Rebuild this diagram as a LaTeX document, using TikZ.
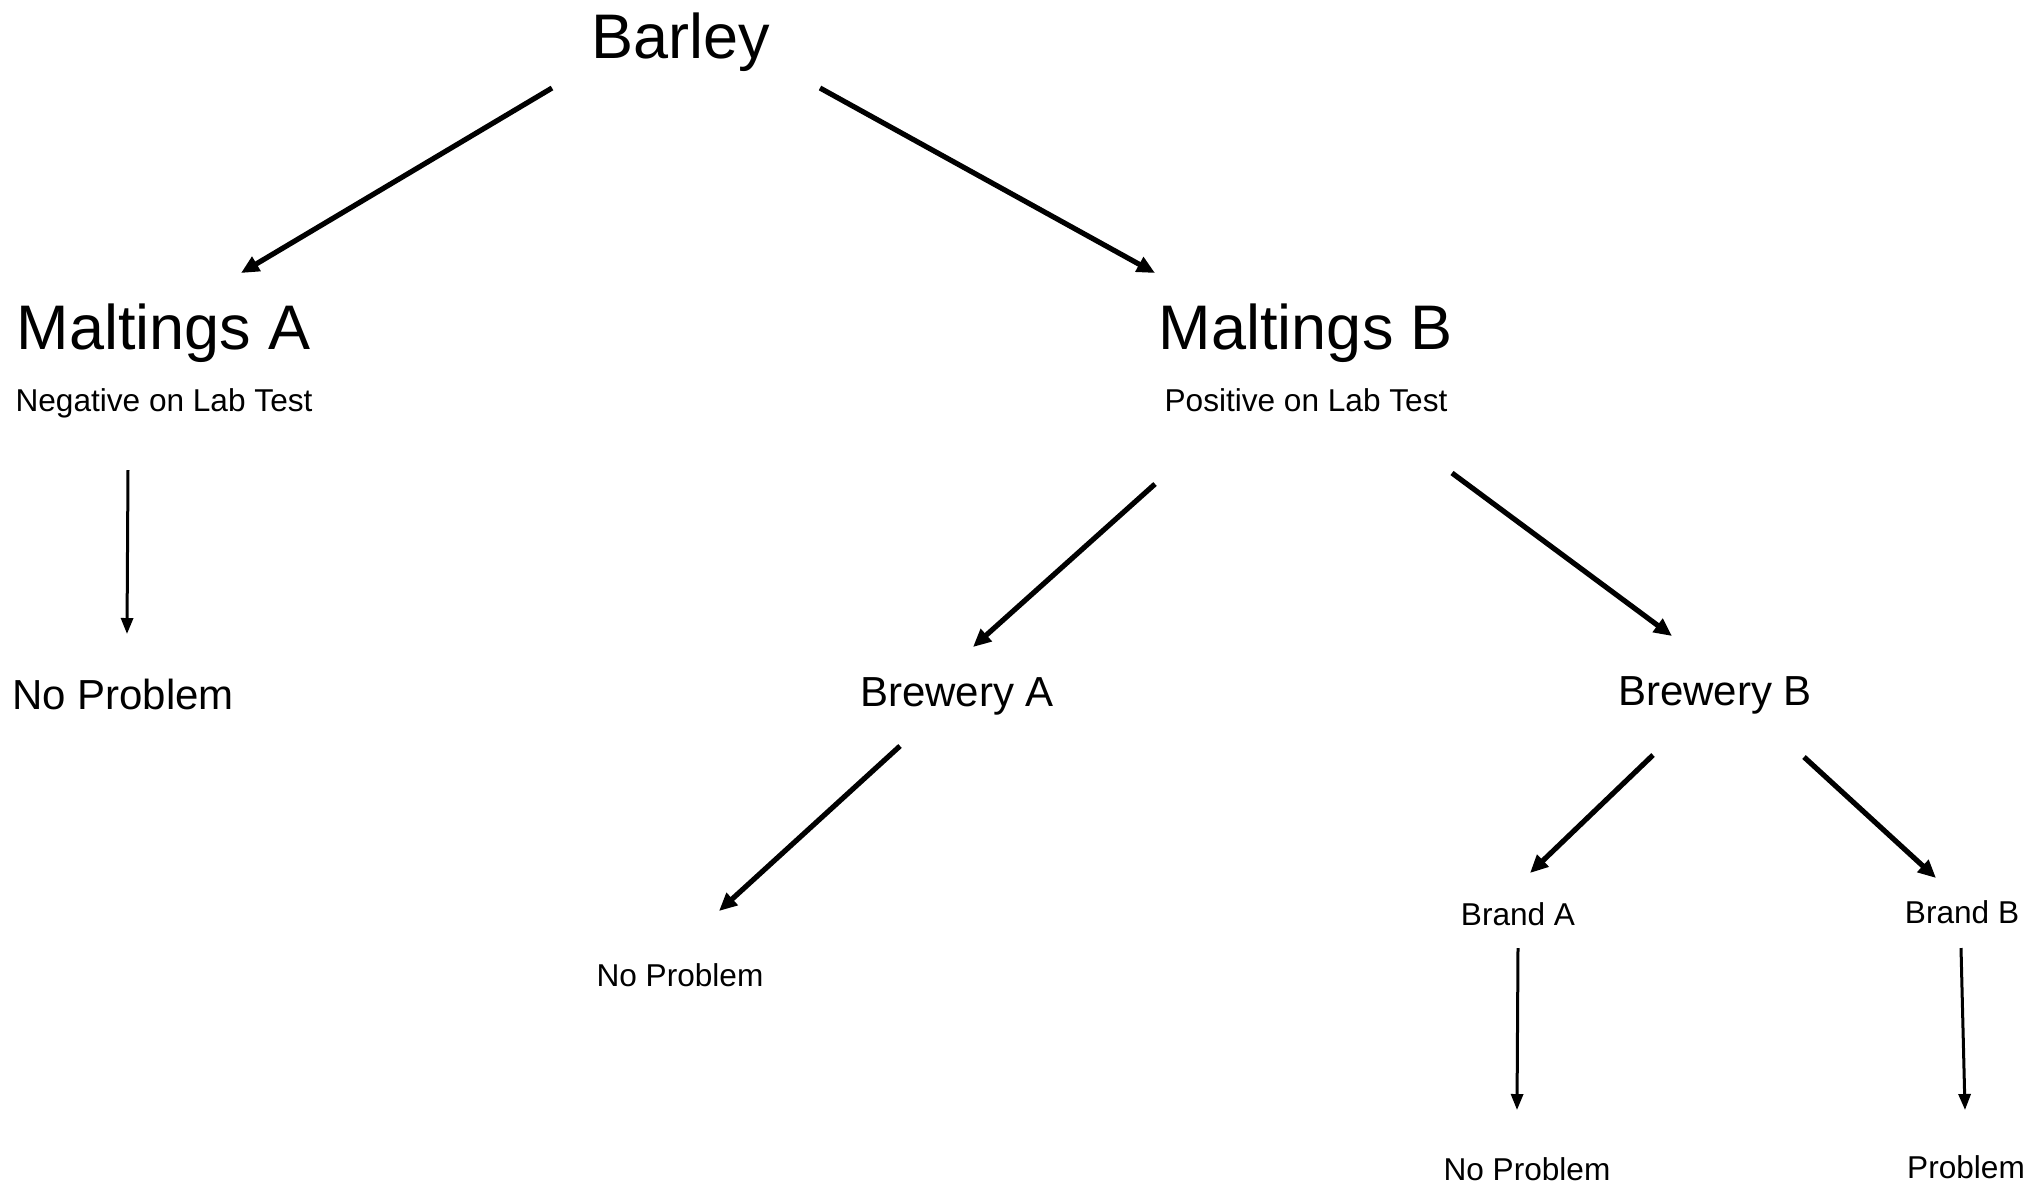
\documentclass[tikz,border=0pt]{standalone}
\usepackage{fontspec}
\setmainfont{Liberation Sans}
\usetikzlibrary{arrows.meta}
\tikzset{
  big/.style={anchor=base, inner sep=0pt, font=\fontsize{31.5}{36}\selectfont},
  mid/.style={anchor=base, inner sep=0pt, font=\fontsize{21}{25}\selectfont},
  small/.style={anchor=base, inner sep=0pt, font=\fontsize{15.8}{19}\selectfont},
  thickarrow/.style={line width=2.6pt, -{Triangle[length=9pt,width=8pt]}},
  thinarrow/.style={line width=1.5pt, -{Triangle[length=8pt,width=6pt]}},
}
\begin{document}
\begin{tikzpicture}[x=0.5pt,y=-0.5pt]
\useasboundingbox (0,0) rectangle (2028,1185);
% nodes
\node[big] (barley) at (681,58) {Barley};
\node[big] (maltA) at (164,349) {Maltings A};
\node[small] (negA) at (164,411) {Negative on Lab Test};
\node[big] (maltB) at (1306,349) {Maltings B};
\node[small] (posB) at (1306,411) {Positive on Lab Test};
\node[mid] (noprobL) at (123,709) {No Problem};
\node[mid] (brewA) at (957,706) {Brewery A};
\node[mid] (brewB) at (1715,705) {Brewery B};
\node[small] (noprobM) at (680,986) {No Problem};
\node[small] (brandA) at (1518,925) {Brand A};
\node[small] (brandB) at (1962,923) {Brand B};
\node[small] (noprobR) at (1527,1180) {No Problem};
\node[small] (prob) at (1966,1178) {Problem};
% connector end points
\coordinate (barley-l) at (552,88);
\coordinate (barley-r) at (820,88);
\coordinate (maltA-t) at (241,273);
\coordinate (maltB-t) at (1155,273);
\coordinate (negA-b) at (128,470);
\coordinate (noprobL-t) at (127,634);
\coordinate (posB-l) at (1155,484);
\coordinate (posB-r) at (1452,473);
\coordinate (brewA-t) at (973,647);
\coordinate (brewB-t) at (1672,636);
\coordinate (brewA-b) at (900,746);
\coordinate (noprobM-t) at (719,911);
\coordinate (brewB-l) at (1653,755);
\coordinate (brewB-r) at (1804,757);
\coordinate (brandA-t) at (1530,873);
\coordinate (brandB-t) at (1936,878);
\coordinate (brandA-b) at (1518,948);
\coordinate (noprobR-t) at (1517,1110);
\coordinate (brandB-b) at (1961,948);
\coordinate (prob-t) at (1965,1110);
% connectors
\draw[thickarrow] (barley-l) -- (maltA-t);
\draw[thickarrow] (barley-r) -- (maltB-t);
\draw[thinarrow] (negA-b) -- (noprobL-t);
\draw[thickarrow] (posB-l) -- (brewA-t);
\draw[thickarrow] (posB-r) -- (brewB-t);
\draw[thickarrow] (brewA-b) -- (noprobM-t);
\draw[thickarrow] (brewB-l) -- (brandA-t);
\draw[thickarrow] (brewB-r) -- (brandB-t);
\draw[thinarrow] (brandA-b) -- (noprobR-t);
\draw[thinarrow] (brandB-b) -- (prob-t);
\end{tikzpicture}
\end{document}
